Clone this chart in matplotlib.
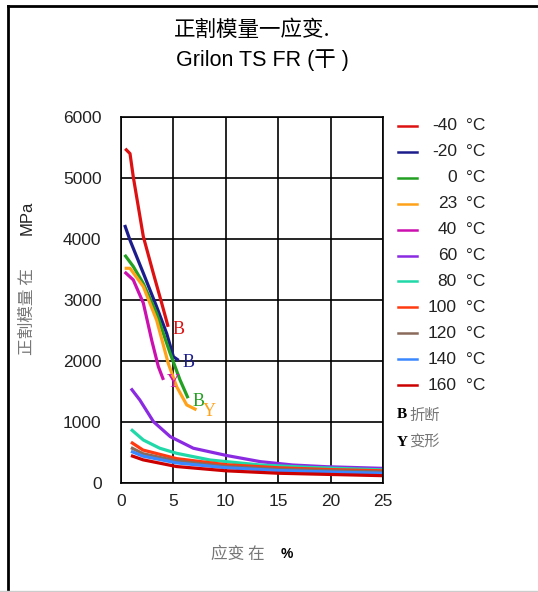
import matplotlib
matplotlib.use("Agg")
import matplotlib.pyplot as plt
from matplotlib.lines import Line2D

plt.rcParams['font.family'] = ['Liberation Sans', 'Noto Sans CJK SC', 'DejaVu Sans']

# ---- data ----
labels = ["-40", "-20", "0", "23", "40", "60", "80", "100", "120", "140", "160"]
colors = ["#dd1111", "#1c1c8c", "#22a022", "#ffa21a", "#cc10b0", "#8a2be2",
          "#20d8a8", "#ff3a10", "#8a6a5a", "#3a88ff", "#cc0000"]

x_m40 = [0.4, 0.86, 1.17, 2.13, 3.08, 3.88, 4.5]
y_m40 = [5480, 5400, 5020, 4040, 3440, 2950, 2560]
x_m20 = [0.35, 0.86, 2.13, 3.4, 4.36, 5.0, 5.5]
y_m20 = [4230, 3980, 3440, 2890, 2450, 2070, 2010]
x_0 = [0.35, 1.17, 2.13, 3.4, 4.68, 5.63, 6.4]
y_0 = [3740, 3550, 3270, 2780, 2130, 1690, 1390]
x_23 = [0.35, 0.86, 2.13, 3.4, 4.51, 5.31, 6.27, 7.2]
y_23 = [3520, 3520, 3220, 2670, 1960, 1580, 1280, 1200]
x_40 = [0.35, 1.17, 2.13, 2.93, 3.56, 4.05]
y_40 = [3460, 3330, 2950, 2340, 1910, 1690]
x_60 = [0.95, 1.8, 3.1, 4.7, 6.9, 10.1, 13.3, 16.4, 19.6, 25]
y_60 = [1550, 1360, 1005, 760, 570, 450, 350, 295, 267, 240]
x_80 = [0.95, 2.13, 3.7, 5.3, 8.5, 13.3, 18, 25]
y_80 = [880, 705, 570, 487, 377, 295, 256, 215]
x_hot = [0.95, 2.1, 5.3, 10, 15, 20, 25]
y_100 = [670, 540, 400, 300, 250, 220, 200]
y_120 = [580, 480, 360, 270, 225, 200, 180]
y_140 = [520, 440, 330, 250, 205, 180, 160]
y_160 = [450, 380, 270, 200, 160, 140, 120]

xs = [x_m40, x_m20, x_0, x_23, x_40, x_60, x_80, x_hot, x_hot, x_hot, x_hot]
ys = [y_m40, y_m20, y_0, y_23, y_40, y_60, y_80, y_100, y_120, y_140, y_160]

# end markers: B = break, Y = yield
end_marks = [("B", 0, 5.45, 2510), ("B", 1, 6.4, 1970), ("Y", 4, 5.0, 1650),
             ("B", 2, 7.4, 1340), ("Y", 3, 8.4, 1170)]

W, H = 538, 592
fig = plt.figure(figsize=(W / 100, H / 100), dpi=100)
ax = fig.add_axes([121 / W, 1 - 483 / H, 262 / W, 366 / H])

for x, y, c in zip(xs, ys, colors):
    ax.plot(x, y, color=c, lw=2.3, solid_capstyle='butt')

for t, i, x, y in end_marks:
    ax.text(x, y, t, color=colors[i], fontsize=13, family='Liberation Serif',
            ha='center', va='center')

ax.set_xlim(0, 25)
ax.set_ylim(0, 6000)
ax.set_xticks([0, 5, 10, 15, 20, 25])
ax.set_yticks([0, 1000, 2000, 3000, 4000, 5000, 6000])
ax.grid(True, color='black', lw=1.2)
ax.tick_params(length=0, labelsize=12.5, colors='#222222')
ax.tick_params(axis='y', pad=14)
ax.tick_params(axis='x', pad=8)
for s in ax.spines.values():
    s.set_linewidth(1.2)

# titles
fig.text(174 / W, 1 - 30 / H, "正割模量一应变.", fontsize=15.5, ha='left', va='center',
         family=['Noto Sans CJK SC', 'DejaVu Sans'])
fig.text(176 / W, 1 - 60 / H, "Grilon TS FR (干 )", fontsize=15.5, ha='left', va='center')

# axis labels
fig.text(27 / W, 1 - 312 / H, "正割模量 在", rotation=90, fontsize=12, color='#777777',
         ha='center', va='center', family=['Noto Sans CJK SC', 'DejaVu Sans'])
fig.text(27 / W, 1 - 218 / H, "MPa", rotation=90, fontsize=12, color='#222222',
         ha='center', va='center')
fig.text(238 / W, 1 - 554 / H, "应变 在", fontsize=12, color='#777777',
         ha='center', va='center', family=['Noto Sans CJK SC', 'DejaVu Sans'])
fig.text(287 / W, 1 - 554 / H, "%", fontsize=10, color='black', weight='bold',
         ha='center', va='center')

# legend, drawn by hand
for i, (lab, c) in enumerate(zip(labels, colors)):
    yy = 1 - (126 + i * 25.9) / H
    fig.add_artist(Line2D([398 / W, 417 / W], [yy, yy], color=c, lw=1.8))
    fig.text(457 / W, yy, lab, fontsize=12.5, ha='right', va='center', color='#222222')
    fig.text(466 / W, yy, "°C", fontsize=12.5, ha='left', va='center', color='#222222')

fig.text(397 / W, 1 - 415 / H, "B", fontsize=11, family='Liberation Serif',
         weight='bold', ha='left', va='center')
fig.text(409 / W, 1 - 415 / H, "折断", fontsize=11, color='#777777', ha='left',
         va='center', family=['Noto Sans CJK SC', 'DejaVu Sans'])
fig.text(397 / W, 1 - 442 / H, "Y", fontsize=11, family='Liberation Serif',
         weight='bold', ha='left', va='center')
fig.text(409 / W, 1 - 442 / H, "变形", fontsize=11, color='#777777', ha='left',
         va='center', family=['Noto Sans CJK SC', 'DejaVu Sans'])

# outer frame: left and top black, bottom light grey
fig.add_artist(Line2D([8 / W, 8 / W], [0, 1 - 6 / H], color='black', lw=2))
fig.add_artist(Line2D([8 / W, 1], [1 - 6 / H, 1 - 6 / H], color='black', lw=2))
fig.add_artist(Line2D([0, 1], [1 / H, 1 / H], color='#cccccc', lw=1))

fig.savefig("out.png", dpi=100)
